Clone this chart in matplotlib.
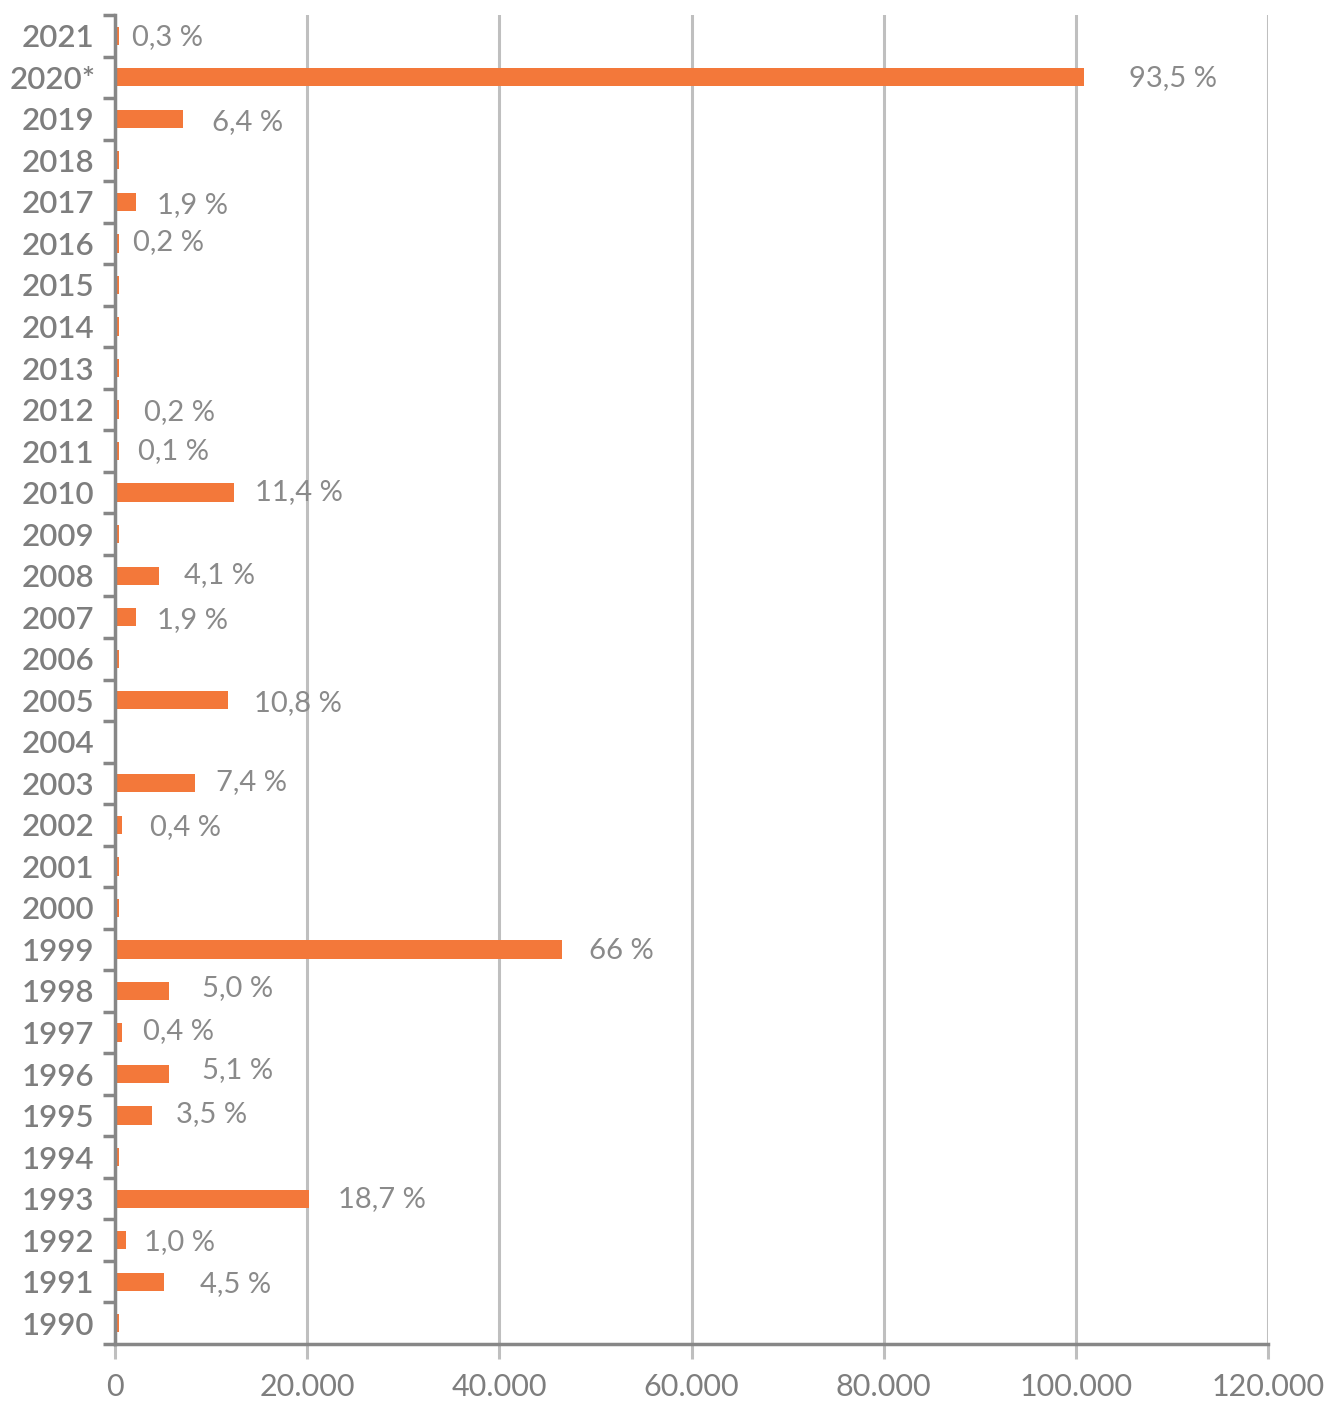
import matplotlib
matplotlib.use("Agg")
import matplotlib.pyplot as plt
from matplotlib.transforms import blended_transform_factory
from matplotlib.ticker import FuncFormatter
import numpy as np

plt.rcParams['font.family'] = ['Lato', 'DejaVu Sans']

# --- data (bottom to top) ---------------------------------------------------
years = ["1990", "1991", "1992", "1993", "1994", "1995", "1996", "1997",
         "1998", "1999", "2000", "2001", "2002", "2003", "2004", "2005",
         "2006", "2007", "2008", "2009", "2010", "2011", "2012", "2013",
         "2014", "2015", "2016", "2017", "2018", "2019", "2020*", "2021"]

values = [400, 5100, 1150, 20200, 400, 3850, 5600, 750,
          5600, 46500, 400, 400, 750, 8300, 0, 11800,
          400, 2200, 4600, 400, 12400, 400, 400, 400,
          400, 400, 400, 2200, 400, 7100, 100800, 400]

shares = ["", "4,5 %", "1,0 %", "18,7 %", "", "3,5 %", "5,1 %", "0,4 %",
          "5,0 %", "66 %", "", "", "0,4 %", "7,4 %", "", "10,8 %",
          "", "1,9 %", "4,1 %", "", "11,4 %", "0,1 %", "0,2 %", "",
          "", "", "0,2 %", "1,9 %", "", "6,4 %", "93,5 %", "0,3 %"]

x_ticks = [0, 20000, 40000, 60000, 80000, 100000, 120000]

# label placement: (gap right of bar end, vertical shift up), in pixels
label_nudge = {
    "1991": (36, 0), "1992": (18, 1), "1993": (29, 2), "1995": (24, 4),
    "1996": (33, 7), "1997": (21, 4), "1998": (33, 5), "1999": (27, 1),
    "2002": (28, 0), "2003": (21, 4), "2005": (26, 0), "2007": (21, 0),
    "2008": (25, 3), "2010": (21, 3), "2011": (19, 3), "2012": (25, 0),
    "2016": (14, 4), "2017": (21, -1), "2019": (29, -1), "2020*": (45, 2),
    "2021": (13, 1),
}

# --- style ------------------------------------------------------------------
ORANGE = "#F3783A"
AXIS = "#878787"
GRID = "#BFBFBF"
TEXT = "#7E7E7E"
LABEL = "#8A8A8A"

W, H = 1331, 1401
fig = plt.figure(figsize=(W / 100, H / 100), dpi=100)
ax = fig.add_axes([115 / W, 57 / H, (1268 - 115) / W, (1344 - 15) / H])

y = np.arange(len(years))
ax.barh(y, values, height=0.44, color=ORANGE, zorder=3)

ax.set_xlim(0, 120000)
ax.set_ylim(-0.5, len(years) - 0.5)

ax.set_xticks(x_ticks)
ax.xaxis.set_major_formatter(
    FuncFormatter(lambda v, _: f"{v:,.0f}".replace(",", ".")))
ax.grid(axis="x", color=GRID, lw=2.2, zorder=0)
ax.set_axisbelow(True)

for side in ("top", "right"):
    ax.spines[side].set_visible(False)
for side in ("left", "bottom"):
    ax.spines[side].set_color(AXIS)
    ax.spines[side].set_linewidth(2.5)
    ax.spines[side].set_zorder(4)

ax.tick_params(axis="x", direction="out", length=11, width=2.2, color=GRID,
               labelsize=22, labelcolor=TEXT, pad=10)
ax.xaxis.get_major_ticks()[0].tick1line.set_color(AXIS)

ax.set_yticks([])
ax.set_yticks(np.arange(-0.5, len(years)), minor=True)
ax.tick_params(axis="y", which="minor", direction="out", length=9,
               width=2.5, color=AXIS)
ax.tick_params(axis="y", which="major", length=0)

# category labels
trans = blended_transform_factory(fig.transFigure, ax.transData)
for yi, name in zip(y, years):
    if len(name) > 4:
        ax.text(96 / W, yi, name, transform=trans, ha="right",
                va="center_baseline", fontsize=22.5, fontweight="semibold",
                color=TEXT)
    else:
        ax.text(22 / W, yi, name, transform=trans, ha="left",
                va="center_baseline", fontsize=22.5, fontweight="semibold",
                color=TEXT)

# share labels next to the bars
for yi, name, v, txt in zip(y, years, values, shares):
    if not txt:
        continue
    dx, dy = label_nudge.get(name, (24, 0))
    ax.annotate(txt, xy=(v, yi), xytext=(dx * 0.72, dy * 0.72),
                textcoords="offset points", ha="left", va="center_baseline",
                fontsize=21, color=LABEL, zorder=5)

fig.savefig("out.png", dpi=100)
